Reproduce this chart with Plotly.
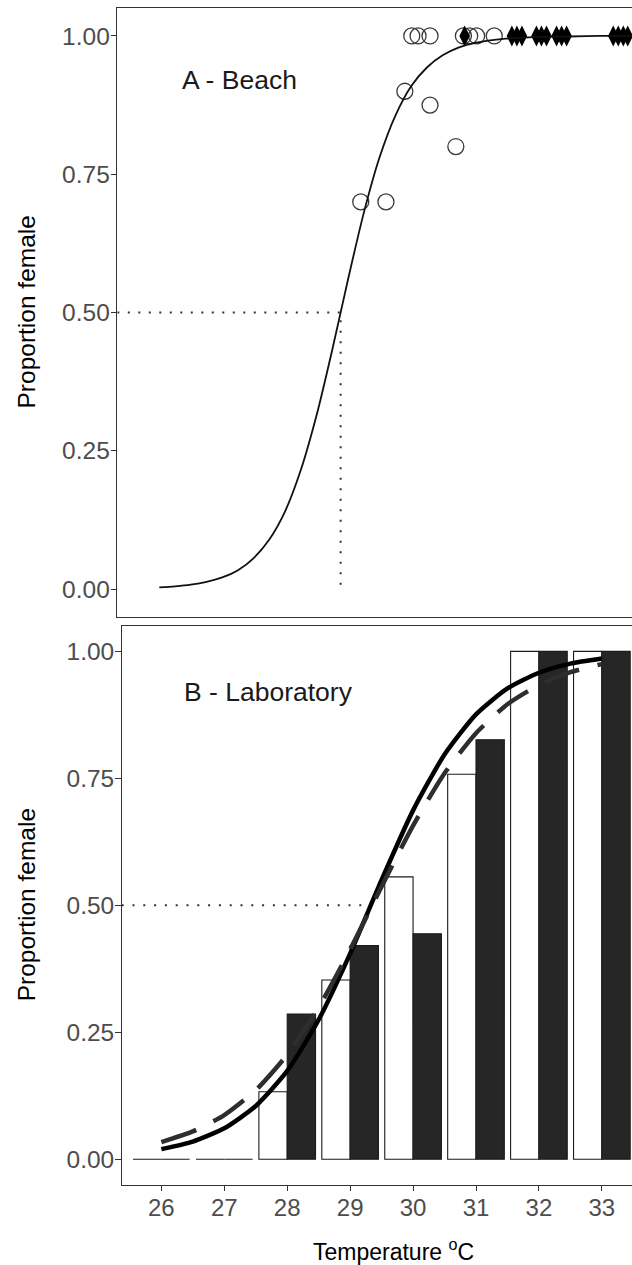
import plotly.graph_objects as go

W, H = 632, 1265

# ---- Panel A: beach nests -------------------------------------------------
beach_circle_temp = [29.20, 29.60, 29.90, 30.30, 30.71, 30.01, 30.11, 30.30,
                     30.83, 30.93, 31.04, 31.32]
beach_circle_prop = [0.70, 0.70, 0.90, 0.875, 0.80, 1.00, 1.00, 1.00,
                     1.00, 1.00, 1.00, 1.00]

beach_diamond_temp = [30.85, 31.60, 31.68, 31.76, 31.99, 32.07, 32.15,
                      32.31, 32.39, 32.47, 33.21, 33.29, 33.37, 33.44]
beach_diamond_prop = [1.00, 1.00, 1.00, 1.00, 1.00, 1.00, 1.00,
                      1.00, 1.00, 1.00, 1.00, 1.00, 1.00, 1.00]

beach_curve_temp = [26.00, 26.25, 26.50, 26.75, 27.00, 27.25, 27.50, 27.75,
                    28.00, 28.25, 28.50, 28.75, 29.00, 29.25, 29.50, 29.75,
                    30.00, 30.25, 30.50, 30.75, 31.00, 31.50, 32.00, 32.50,
                    33.00, 34.00]
beach_curve_prop = [0.003, 0.005, 0.008, 0.013, 0.021, 0.034, 0.056, 0.090,
                    0.141, 0.216, 0.315, 0.434, 0.561, 0.681, 0.781, 0.856,
                    0.909, 0.943, 0.965, 0.979, 0.987, 0.995, 0.998, 0.999,
                    1.000, 1.000]
beach_pivotal = 28.88

# ---- Panel B: laboratory incubation ---------------------------------------
lab_temp = [26, 27, 28, 29, 30, 31, 32, 33]
lab_white = [0.0, 0.0, 0.133, 0.353, 0.556, 0.758, 1.0, 1.0]
lab_dark = [0.0, 0.0, 0.286, 0.421, 0.444, 0.826, 1.0, 1.0]

lab_curve_temp = [26.0, 26.5, 27.0, 27.5, 28.0, 28.5, 29.0, 29.5, 30.0,
                  30.5, 31.0, 31.5, 32.0, 32.5, 33.0]
lab_curve_solid = [0.020, 0.035, 0.061, 0.105, 0.174, 0.275, 0.405, 0.550,
                   0.687, 0.797, 0.876, 0.927, 0.958, 0.976, 0.986]
lab_curve_dashed = [0.034, 0.055, 0.087, 0.136, 0.206, 0.299, 0.413, 0.537,
                    0.657, 0.760, 0.839, 0.896, 0.934, 0.959, 0.975]
lab_pivotal = 29.27

y_ticks = [0, 0.25, 0.5, 0.75, 1.0]
y_ticktext = ["0.00", "0.25", "0.50", "0.75", "1.00"]

TOP_X_RANGE = [25.333, 33.508]
BOT_X_RANGE = [25.37, 33.479]
Y_RANGE = [-0.05, 1.05]

FONT = "Liberation Sans, Arial, sans-serif"
AXIS_COL = "#333333"
TICK_TXT = "#4d4d4d"

fig = go.Figure()

# Panel A
fig.add_trace(go.Scatter(
    x=[TOP_X_RANGE[0], beach_pivotal, beach_pivotal], y=[0.5, 0.5, 0.0],
    mode="lines", line=dict(color="#333333", width=2, dash="2px,8.5px"),
    xaxis="x", yaxis="y", hoverinfo="skip"))
fig.add_trace(go.Scatter(
    x=beach_circle_temp, y=beach_circle_prop, mode="markers",
    marker=dict(symbol="circle-open", size=16, color="#3a3a3a",
                line=dict(width=1.3, color="#3a3a3a")),
    xaxis="x", yaxis="y"))
fig.add_trace(go.Scatter(
    x=beach_diamond_temp, y=beach_diamond_prop, mode="markers",
    marker=dict(symbol="diamond-tall", size=15, color="#000000"),
    xaxis="x", yaxis="y"))
fig.add_trace(go.Scatter(
    x=beach_curve_temp, y=beach_curve_prop, mode="lines",
    line=dict(color="#111111", width=1.8, shape="spline", smoothing=0.8),
    xaxis="x", yaxis="y"))

# Panel B
fig.add_trace(go.Bar(
    x=lab_temp, y=lab_white,
    marker=dict(color="#ffffff", line=dict(color="#1a1a1a", width=1.1)),
    xaxis="x2", yaxis="y2"))
fig.add_trace(go.Bar(
    x=lab_temp, y=lab_dark,
    marker=dict(color="#262626", line=dict(color="#1a1a1a", width=1.1)),
    xaxis="x2", yaxis="y2"))
fig.add_trace(go.Scatter(
    x=[BOT_X_RANGE[0], lab_pivotal], y=[0.5, 0.5],
    mode="lines", line=dict(color="#333333", width=2, dash="2px,8.8px"),
    xaxis="x2", yaxis="y2", hoverinfo="skip"))
fig.add_trace(go.Scatter(
    x=lab_curve_temp, y=lab_curve_solid, mode="lines",
    line=dict(color="#000000", width=4.5, shape="spline", smoothing=0.6),
    xaxis="x2", yaxis="y2"))
fig.add_trace(go.Scatter(
    x=lab_curve_temp, y=lab_curve_dashed, mode="lines",
    line=dict(color="#2e2e2e", width=4.5, shape="spline", smoothing=0.6,
              dash="37px,19px"),
    xaxis="x2", yaxis="y2"))

axis_common = dict(showgrid=False, zeroline=False, showline=True,
                   linecolor=AXIS_COL, linewidth=1.2)
yaxis_common = dict(axis_common, range=Y_RANGE, tickvals=y_ticks,
                    ticktext=y_ticktext, ticks="outside", ticklen=5.5,
                    tickwidth=1.2, tickcolor=AXIS_COL, ticklabelstandoff=-4,
                    tickfont=dict(family=FONT, size=24.5, color=TICK_TXT))

top_y0, top_y1 = 1 - 616.7 / H, 1 - 8.3 / H
bot_y0, bot_y1 = 1 - 1184.7 / H, 1 - 626.0 / H

fig.update_layout(
    width=W, height=H,
    margin=dict(l=0, r=0, t=0, b=0),
    paper_bgcolor="white", plot_bgcolor="white",
    showlegend=False,
    barmode="group", bargap=0.1, bargroupgap=0.0,
    xaxis=dict(axis_common, domain=[117.3 / W, 1.0], range=TOP_X_RANGE,
               mirror=True, ticks="", showticklabels=False, anchor="y"),
    yaxis=dict(yaxis_common, domain=[top_y0, top_y1], anchor="x"),
    xaxis2=dict(axis_common, domain=[121.7 / W, 1.0], range=BOT_X_RANGE,
                mirror=True, tickvals=lab_temp, ticks="outside", ticklen=5.5,
                tickwidth=1.2, tickcolor=AXIS_COL, ticklabelstandoff=-4,
                tickfont=dict(family=FONT, size=24, color=TICK_TXT),
                anchor="y2"),
    yaxis2=dict(yaxis_common, domain=[bot_y0, bot_y1], anchor="x2"),
    annotations=[
        dict(text="A - Beach", x=26.33, y=0.92, xref="x", yref="y",
             xanchor="left", yanchor="middle", showarrow=False,
             font=dict(family=FONT, size=26.5, color="#1a1a1a")),
        dict(text="B - Laboratory", x=26.33, y=0.92, xref="x2", yref="y2",
             xanchor="left", yanchor="middle", showarrow=False,
             font=dict(family=FONT, size=26.5, color="#1a1a1a")),
        dict(text="Proportion female", textangle=-90,
             x=26 / W, y=(top_y0 + top_y1) / 2, xref="paper", yref="paper",
             xanchor="center", yanchor="middle", showarrow=False,
             font=dict(family=FONT, size=24.5, color="#000000")),
        dict(text="Proportion female", textangle=-90,
             x=26 / W, y=(bot_y0 + bot_y1) / 2, xref="paper", yref="paper",
             xanchor="center", yanchor="middle", showarrow=False,
             font=dict(family=FONT, size=24.5, color="#000000")),
        dict(text="Temperature <sup>o</sup>C",
             x=393 / W, y=1 - 1250 / H, xref="paper", yref="paper",
             xanchor="center", yanchor="middle", showarrow=False,
             font=dict(family=FONT, size=23, color="#000000")),
    ],
)

fig.write_html("out.html")
